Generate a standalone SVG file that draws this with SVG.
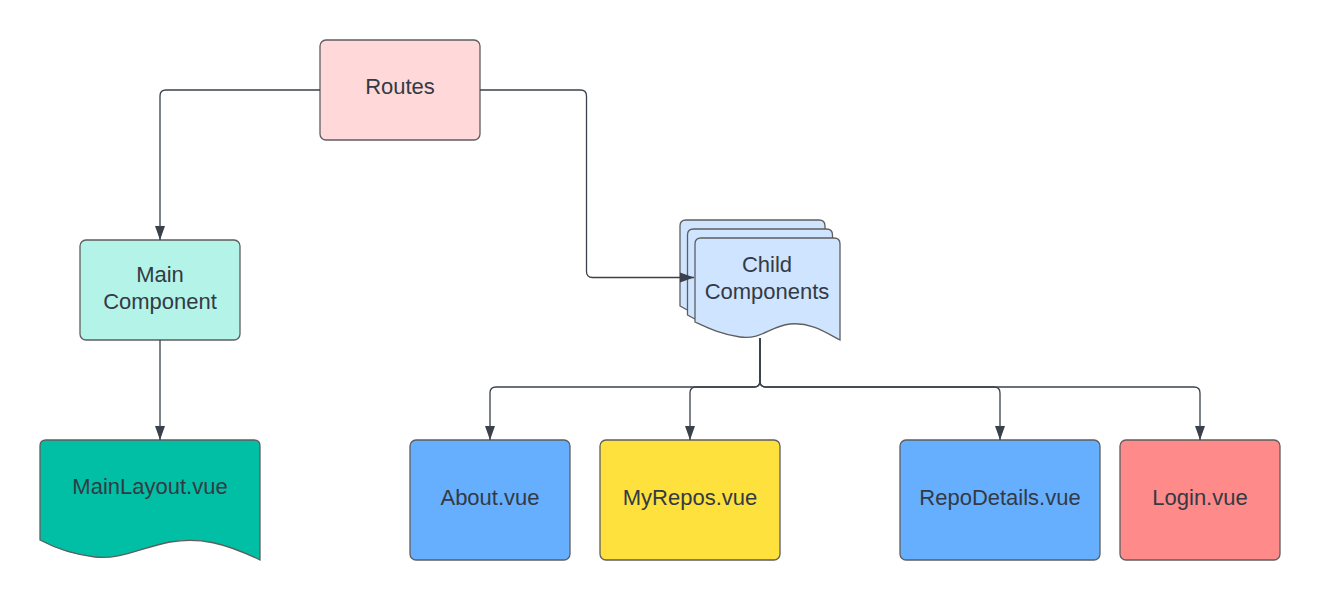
<svg xmlns="http://www.w3.org/2000/svg" width="1320" height="600" viewBox="0 0 1320 600">
<defs>
<style>
.box{stroke:#5e5e5e;stroke-width:1.3}
.lbl{font-family:"Liberation Sans",Arial,sans-serif;font-size:22px;fill:#333a44;text-anchor:middle}
.conn{fill:none;stroke:#3a414a;stroke-width:1.3}
</style>
<marker id="arr" viewBox="0 0 14 12" refX="14" refY="6" markerWidth="14" markerHeight="12" markerUnits="userSpaceOnUse" orient="auto">
<path d="M0,1 L14,6 L0,11 Z" fill="#3a414a"/>
</marker>
</defs>
<rect width="1320" height="600" fill="#ffffff"/>
<g id="routes">
<rect class="box" x="320" y="40" width="160" height="100" rx="6" fill="#ffd9d9"/>
<text class="lbl" x="400" y="94">Routes</text>
</g>
<g id="main-component">
<rect class="box" x="80" y="240" width="160" height="100" rx="6" fill="#b3f3e8"/>
<text class="lbl" x="160" y="282">Main</text>
<text class="lbl" x="160" y="309">Component</text>
</g>
<g id="mainlayout">
<path class="box" fill="#00bfa5" d="M40,446 Q40,440 46,440 H254 Q260,440 260,446 V560 C225,543 200,537 170,542 C140,548 120,560 95,557 C70,554 55,548 40,540 Z"/>
<text class="lbl" x="150" y="494">MainLayout.vue</text>
</g>
<g id="child-components">
<path class="box" fill="#cfe4ff" d="M680,226 Q680,220 686,220 H819 Q825,220 825,226 V322 C810,316 795,304 770,306 C745,308 735,322 710,317 C695,314 688,311 680,306 Z"/>
<path class="box" fill="#cfe4ff" d="M687.5,235 Q687.5,229 693.5,229 H826.5 Q832.5,229 832.5,235 V331 C817.5,325 802.5,313 777.5,315 C752.5,317 742.5,331 717.5,326 C702.5,323 695.5,320 687.5,315 Z"/>
<path class="box" fill="#cfe4ff" d="M695,244 Q695,238 701,238 H834 Q840,238 840,244 V340 C825,332 810,322 790,324 C770,326 762,340 740,337 C720,334 708,328 695,322 Z"/>
<text class="lbl" x="767" y="272">Child</text>
<text class="lbl" x="767" y="299">Components</text>
</g>
<g id="about">
<rect class="box" x="410" y="440" width="160" height="120" rx="6" fill="#66afff"/>
<text class="lbl" x="490" y="505">About.vue</text>
</g>
<g id="myrepos">
<rect class="box" x="600" y="440" width="180" height="120" rx="6" fill="#ffe13d"/>
<text class="lbl" x="690" y="505">MyRepos.vue</text>
</g>
<g id="repodetails">
<rect class="box" x="900" y="440" width="200" height="120" rx="6" fill="#66afff"/>
<text class="lbl" x="1000" y="505">RepoDetails.vue</text>
</g>
<g id="login">
<rect class="box" x="1120" y="440" width="160" height="120" rx="6" fill="#ff8a8a"/>
<text class="lbl" x="1200" y="505">Login.vue</text>
</g>
<g id="connectors">
<path class="conn" d="M320,90 H166 Q160,90 160,96 V240" marker-end="url(#arr)"/>
<path class="conn" d="M480,90 H580.5 Q586.5,90 586.5,96 V271.5 Q586.5,277.5 592.5,277.5 H694" marker-end="url(#arr)"/>
<path class="conn" d="M160,340 V440" marker-end="url(#arr)"/>
<path class="conn" d="M760,338 V381 Q760,387 754,387 H496 Q490,387 490,393 V440" marker-end="url(#arr)"/>
<path class="conn" d="M760,338 V381 Q760,387 754,387 H696 Q690,387 690,393 V440" marker-end="url(#arr)"/>
<path class="conn" d="M760,338 V381 Q760,387 766,387 H994 Q1000,387 1000,393 V440" marker-end="url(#arr)"/>
<path class="conn" d="M760,338 V381 Q760,387 766,387 H1194 Q1200,387 1200,393 V440" marker-end="url(#arr)"/>
</g>
</svg>
